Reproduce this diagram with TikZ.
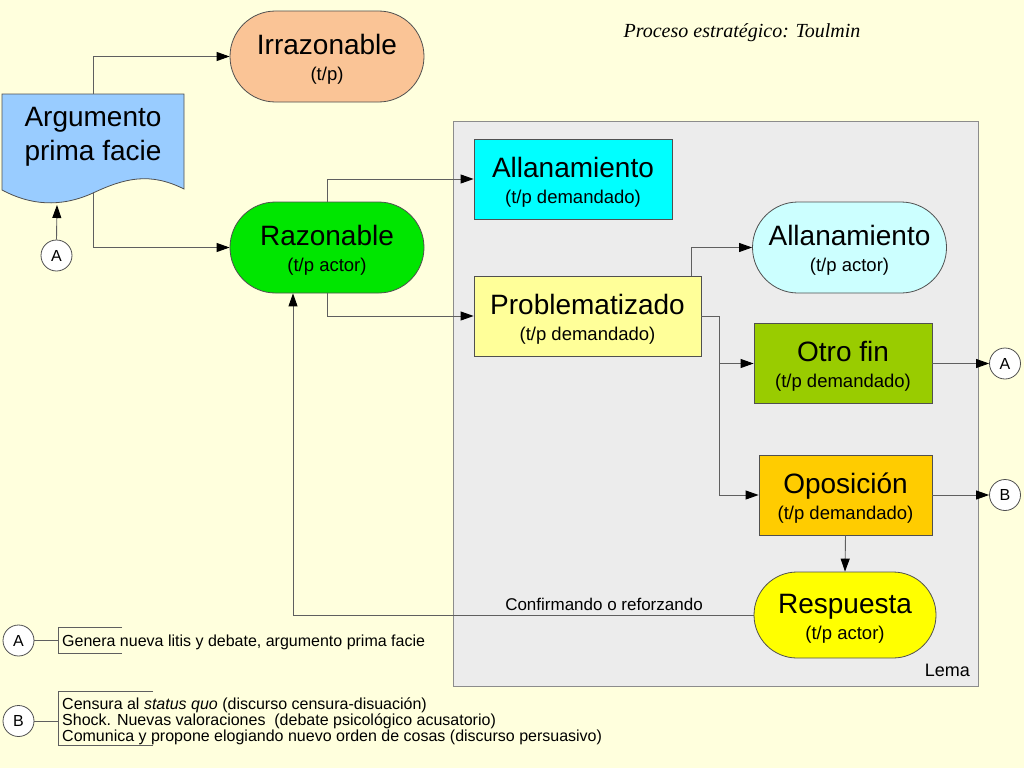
\documentclass[tikz,border=0pt]{standalone}
\usepackage{fontspec}
\setmainfont{Liberation Sans}
\newfontfamily\titlefont{Liberation Serif}
\usetikzlibrary{arrows.meta}
\definecolor{bgc}{RGB}{255,255,221}
\definecolor{irrc}{RGB}{250,196,150}
\definecolor{razc}{RGB}{0,230,0}
\definecolor{alldc}{RGB}{0,255,255}
\definecolor{allac}{RGB}{204,255,255}
\definecolor{probc}{RGB}{255,255,153}
\definecolor{otroc}{RGB}{153,204,0}
\definecolor{oposc}{RGB}{255,204,0}
\definecolor{respc}{RGB}{255,255,0}
\definecolor{argc}{RGB}{153,204,255}
\definecolor{lemac}{RGB}{236,236,236}
\definecolor{lemab}{RGB}{140,140,140}
\definecolor{bordc}{RGB}{80,80,80}
\definecolor{linec}{RGB}{95,95,95}
\newcommand\twol[2]{\fontsize{28}{26}\selectfont\rule{0pt}{26pt}#1\\\fontsize{18.5}{26}\selectfont #2}
\tikzset{
  shp/.style={draw=bordc, line width=0.8pt, inner sep=0pt, align=center, font=\fontsize{18.5}{26}\selectfont},
  pill/.style={shp, rounded corners=45.5pt, minimum width=194pt, minimum height=91pt},
  boxn/.style={shp, rectangle, minimum height=80pt},
  circ/.style={circle, draw=bordc, fill=white, line width=0.8pt, minimum size=31pt, inner sep=0pt, font=\fontsize{16}{16}\selectfont},
  arr/.style={draw=linec, line width=0.9pt, -{Triangle[length=13pt,width=9pt,color=black]}},
  con/.style={draw=linec, line width=0.9pt},
  legtxt/.style={inner sep=0pt, anchor=west, align=left, font=\fontsize{16}{16.2}\selectfont},
}
\begin{document}
\begin{tikzpicture}[x=1pt,y=-1pt]
\fill[bgc] (0,0) rectangle (1024,768);
\useasboundingbox (0,0) rectangle (1024,768);

% Lema frame
\node[draw=lemab, fill=lemac, line width=0.8pt, minimum width=525pt, minimum height=565pt, inner sep=0pt] (lema) at (715.5,403.5) {};
\node[inner sep=0pt, anchor=base east, font=\fontsize{18}{20}\selectfont] (lemat) at (970,676) {Lema};

% title
\node[inner sep=0pt, font=\titlefont\itshape\fontsize{20}{22}\selectfont] (title) at (742,33) {Proceso estratégico: Toulmin};

% document shape
\node[minimum width=182pt, minimum height=98pt, inner sep=0pt] (arg) at (93,143) {};
\draw[draw=bordc, fill=argc, line width=0.8pt] (2,94) -- (184,94) -- (184,189)
  .. controls (150,172) and (125,178) .. (93,193)
  .. controls (60,208) and (30,205) .. (2,190) -- cycle;
\node[inner sep=0pt, align=center, font=\fontsize{28}{34}\selectfont] (argt) at (93,137) {Argumento\\prima facie};
\coordinate (argwave) at (57,205);

% main nodes
\node[pill, fill=irrc] (irr) at (327,56.5) {\twol{Irrazonable}{(t/p)}};
\node[pill, fill=razc] (raz) at (327,247.5) {\twol{Razonable}{(t/p actor)}};
\node[boxn, fill=alldc, minimum width=198pt] (alld) at (573,179) {\twol{Allanamiento}{(t/p demandado)}};
\node[pill, fill=allac] (alla) at (849.5,247.5) {\twol{Allanamiento}{(t/p actor)}};
\node[boxn, fill=probc, minimum width=227pt] (prob) at (587.5,316) {\twol{Problematizado}{(t/p demandado)}};
\node[boxn, fill=otroc, minimum width=178pt] (otro) at (843,363.5) {\twol{Otro fin}{(t/p demandado)}};
\node[boxn, fill=oposc, minimum width=173pt] (opos) at (845.5,495) {\twol{Oposición}{(t/p demandado)}};
\node[pill, fill=respc, rounded corners=43pt, minimum width=182pt, minimum height=86pt] (resp) at (845,615) {\twol{Respuesta}{(t/p actor)}};

% circles
\node[circ] (aSrc) at (56.5,255.5) {A};
\node[circ] (aOut) at (1005,363.5) {A};
\node[circ] (bOut) at (1005,495) {B};
\node[circ] (legA) at (18.5,640.5) {A};
\node[circ] (legB) at (18.5,721) {B};

% connectors
\draw[arr] (arg.north) |- (irr.west);
\draw[arr] (arg.south) |- (raz.west);
\draw[arr] (aSrc.north) -- (argwave);
\draw[arr] (raz.north) |- (alld.west);
\draw[arr] (raz.south) |- (prob.west);
\draw[arr] ([xshift=-10pt]prob.north east) |- (alla.west);
\draw[arr] (prob.east) -- ++(18,0) |- (otro.west);
\draw[arr] (prob.east) -- ++(18,0) |- (opos.west);
\draw[arr] (otro.east) -- (aOut.west);
\draw[arr] (opos.east) -- (bOut.west);
\draw[arr] (opos.south) -- (resp.north);
\draw[arr] (resp.west) -| ([xshift=-34pt]raz.south);
\node[inner sep=0pt, anchor=base, font=\fontsize{17}{19}\selectfont] (conf) at (604,610) {Confirmando o reforzando};

% legend
\draw[con] (legA.east) -- (58,640.5);
\draw[con] (122,627) -- (58,627) -- (58,653) -- (122,653);
\node[legtxt] (legAt) at (62,642) {Genera nueva litis y debate, argumento prima facie};
\draw[con] (legB.east) -- (58,721);
\draw[con] (153,691) -- (58,691) -- (58,745) -- (153,745);
\node[legtxt] (legBt) at (62,721) {Censura al \textit{status quo} (discurso censura-disuación)\\Shock. Nuevas valoraciones ~(debate psicológico acusatorio)\\Comunica y propone elogiando nuevo orden de cosas (discurso persuasivo)};
\end{tikzpicture}
\end{document}
